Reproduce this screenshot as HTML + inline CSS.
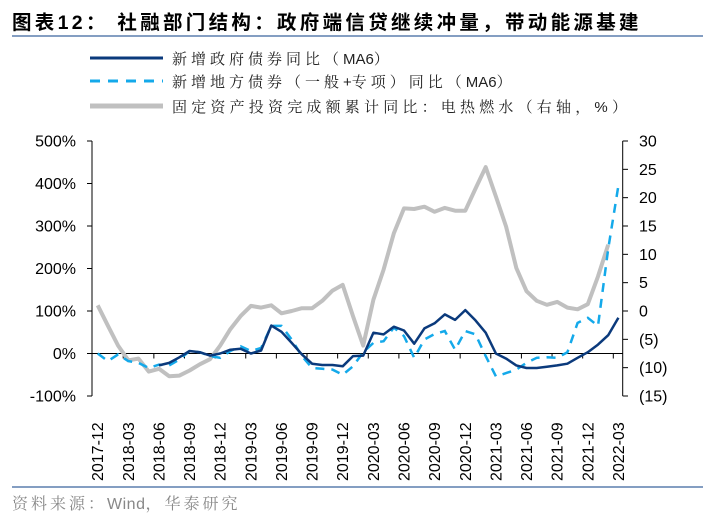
<!DOCTYPE html>
<html><head><meta charset="utf-8">
<style>
body{margin:0;background:#fff;}
svg{display:block;font-family:"Liberation Sans",Arial,sans-serif;}
.cn{font-family:"Liberation Sans","Noto Serif CJK SC","Noto Sans CJK SC",serif;}
</style></head>
<body>
<svg id="chart" width="715" height="520" viewBox="0 0 715 520">
  <text x="12" y="29" font-size="19.5" font-weight="bold" fill="#000" letter-spacing="3.3" style="font-family:'Liberation Sans','Noto Sans CJK SC',sans-serif">图表12：  社融部门结构：政府端信贷继续冲量，带动能源基建</text>
  <line x1="12" y1="36" x2="703" y2="36" stroke="#5b7fae" stroke-width="1.5"/>
  <g>
    <g>
      <line x1="90" y1="58" x2="163" y2="58" stroke="#0b3a7c" stroke-width="3"/>
      <text x="172" y="64" class="cn" font-size="15" letter-spacing="4" fill="#222">新增政府债券同比（<tspan letter-spacing="0">MA6</tspan>）</text>
    </g>
    <g>
      <line x1="90" y1="81" x2="163" y2="81" stroke="#14a9ea" stroke-width="3" stroke-dasharray="10,8"/>
      <text x="172" y="87" class="cn" font-size="15" letter-spacing="4" fill="#222">新增地方债券（一般<tspan letter-spacing="0">+</tspan>专项）同比（<tspan letter-spacing="0">MA6</tspan>）</text>
    </g>
    <g>
      <line x1="90" y1="106" x2="163" y2="106" stroke="#c0c0c0" stroke-width="5"/>
      <text x="172" y="112" class="cn" font-size="15" letter-spacing="4.2" fill="#222">固定资产投资完成额累计同比：电热燃水（右轴，%）</text>
    </g>
  </g>
  <g id="axes"></g>
  <g id="series"></g>
  <line x1="12" y1="487" x2="703" y2="487" stroke="#5b7fae" stroke-width="1.5"/>
  <text x="12" y="509" class="cn" font-size="16" fill="#888" letter-spacing="3">资料来源：<tspan letter-spacing="0.5">Wind</tspan>，华泰研究</text>
</svg>
<script>
const months = ["2017-12","2018-01","2018-02","2018-03","2018-04","2018-05","2018-06","2018-07","2018-08","2018-09","2018-10","2018-11","2018-12","2019-01","2019-02","2019-03","2019-04","2019-05","2019-06","2019-07","2019-08","2019-09","2019-10","2019-11","2019-12","2020-01","2020-02","2020-03","2020-04","2020-05","2020-06","2020-07","2020-08","2020-09","2020-10","2020-11","2020-12","2021-01","2021-02","2021-03","2021-04","2021-05","2021-06","2021-07","2021-08","2021-09","2021-10","2021-11","2021-12","2022-01","2022-02","2022-03"];
const govBonds = [null,null,null,null,null,null,-28,-22,-9,6,3,-5,0,9,11,0,7,66,51,25,-2,-24,-27,-27,-30,-6,-5,49,45,63,54,23,59,71,92,79,102,78,49,0,-12,-28,-34,-34,-31,-28,-24,-10,3,21,43,84];
const localBonds = [0,-18,-2,-18,-22,-34,-26,-28,-14,6,3,-6,-10,6,17,6,13,65,65,33,-6,-34,-36,-38,-50,-30,3,25,29,61,41,-10,33,46,53,9,53,45,-6,-54,-46,-38,-22,-10,-9,-10,3,72,84,65,246,395];
const faiUtilities = [1.0,-2.6,-6.1,-8.7,-8.4,-10.7,-10.2,-11.5,-11.4,-10.5,-9.4,-8.5,-6.1,-3.2,-0.9,0.9,0.6,1.0,-0.4,0,0.5,0.5,1.8,3.6,4.6,-0.9,-6.1,2.0,7.3,13.7,18.1,18.0,18.4,17.5,18.2,17.7,17.7,21.6,25.4,20.2,14.9,7.6,3.5,1.8,1.1,1.6,0.6,0.3,1.2,6.1,11.7,null];
const leftTicks = [500,400,300,200,100,0,-100];
const rightTicks = [30,25,20,15,10,5,0,-5,-10,-15];

const NS="http://www.w3.org/2000/svg";
const X0=97.7, XSTEP=10.21, TOP=141, BOT=396;
const xAt=i=>X0+i*XSTEP;
const yL=v=>TOP+(500-v)/600*(BOT-TOP);
const yR=v=>TOP+(30-v)/45*(BOT-TOP);
function mk(tag,attrs,parent){const e=document.createElementNS(NS,tag);for(const k in attrs)e.setAttribute(k,attrs[k]);parent.appendChild(e);return e;}
const axes=document.getElementById('axes'), ser=document.getElementById('series');

const la=mk('line',{x1:92,y1:TOP,x2:92,y2:BOT,stroke:'#000','stroke-width':1},axes);


leftTicks.forEach(v=>{
  const y=yL(v);
  mk('line',{x1:87,y1:y,x2:92,y2:y,stroke:'#000'},axes);
  const t=mk('text',{x:76,y:y+5.5,'text-anchor':'end','font-size':16,fill:'#000'},axes);
  t.textContent=v+'%';
  
  
});
const ra=mk('line',{x1:622.7,y1:TOP,x2:622.7,y2:BOT,stroke:'#000'},axes);


rightTicks.forEach(v=>{
  const y=yR(v);
  mk('line',{x1:622.7,y1:y,x2:628,y2:y,stroke:'#000'},axes);
  const t=mk('text',{x:639,y:y+5.5,'font-size':16,fill:'#000'},axes);
  t.textContent=v<0?'('+(-v)+')':String(v);
  
  
});
const y0=yL(0);
const xa=mk('line',{x1:92,y1:y0,x2:622.7,y2:y0,stroke:'#000'},axes);


for(let i=2.5;i<months.length;i+=3){mk('line',{x1:xAt(i),y1:y0,x2:xAt(i),y2:y0+5,stroke:'#000'},axes);}
months.forEach((m,i)=>{
  if(i%3!==0)return;
  const x=xAt(i)+5.5;
  const t=mk('text',{x:x,y:481,'font-size':16,fill:'#000',transform:`rotate(-90 ${x} 481)`},axes);
  t.textContent=m;
  
  
});
function path(arr,yf){let d='',pen=false;arr.forEach((v,i)=>{if(v===null){pen=false;return;}d+=(pen?'L':'M')+xAt(i).toFixed(1)+','+yf(v).toFixed(1);pen=true;});return d;}
const g1=mk('path',{d:path(faiUtilities,yR),fill:'none',stroke:'#c0c0c0','stroke-width':4,'stroke-linejoin':'round'},ser);


const g2=mk('path',{d:path(localBonds,yL),fill:'none',stroke:'#14a9ea','stroke-width':2.5,'stroke-dasharray':'9,7'},ser);


const g3=mk('path',{d:path(govBonds,yL),fill:'none',stroke:'#0b3a7c','stroke-width':2.5,'stroke-linejoin':'round'},ser);


</script>
</body></html>
